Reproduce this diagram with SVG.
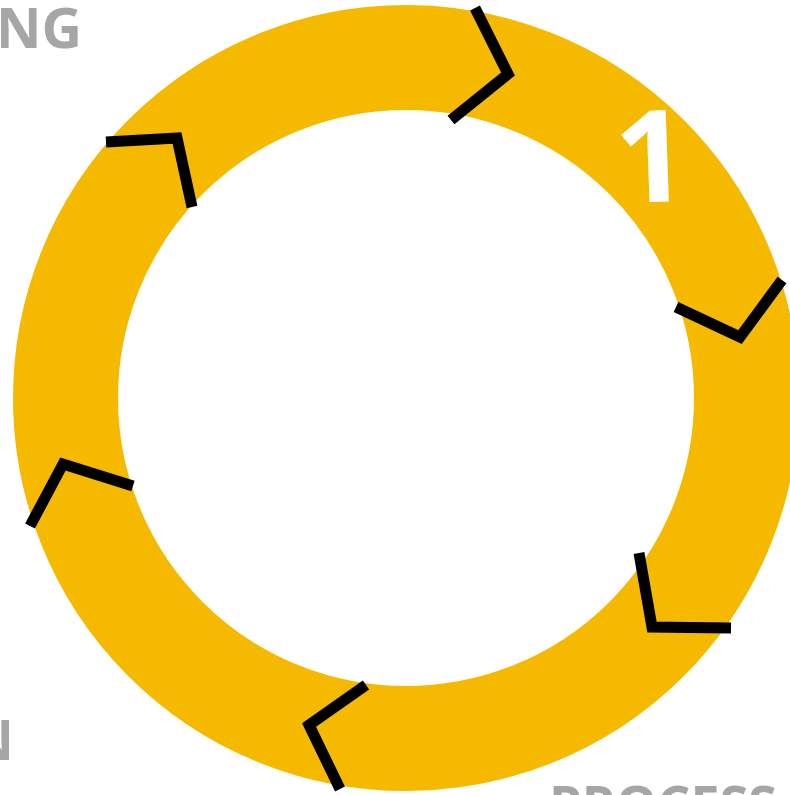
<svg xmlns="http://www.w3.org/2000/svg" width="790" height="795" viewBox="0 0 790 795">
<style>
.ring{fill:none;stroke:#F5BA00;stroke-width:105}
.chev{fill:none;stroke:#000;stroke-width:11;stroke-linejoin:miter;stroke-linecap:butt;stroke-miterlimit:10}
.lbl{font-family:"Open Sans","Liberation Sans",sans-serif;font-weight:bold;fill:#A6A6A6;font-size:56px}
.num{font-family:"Open Sans","Liberation Sans",sans-serif;font-weight:bold;fill:#FFFFFF;font-size:128px}
</style>
<rect width="790" height="795" fill="#FFFFFF"/>
<g id="ring">
<circle class="ring" cx="406" cy="398" r="340.5"/>
</g>
<g id="connectors">
<polyline class="chev" points="475,8 508,74 451,120"/>
<polyline class="chev" points="782,280 740,337 676,307"/>
<polyline class="chev" points="639,553 652,627 731,628"/>
<polyline class="chev" points="366,685 309,725 340,789"/>
<polyline class="chev" points="133,486 63,464 30,526"/>
<polyline class="chev" points="106,142 177,138 192,207"/>
</g>
<g id="step1">
<text class="num" x="651" y="202" text-anchor="middle" transform="rotate(-2 651 155)">1</text>
</g>
<g id="label-top">
<text class="lbl" x="82" y="48" text-anchor="end">NG</text>
</g>
<g id="label-left">
<text class="lbl" x="14" y="760" text-anchor="end">N</text>
</g>
<g id="label-bottom">
<text class="lbl" x="549" y="823" style="font-size:52px">PROCESS</text>
</g>
</svg>
